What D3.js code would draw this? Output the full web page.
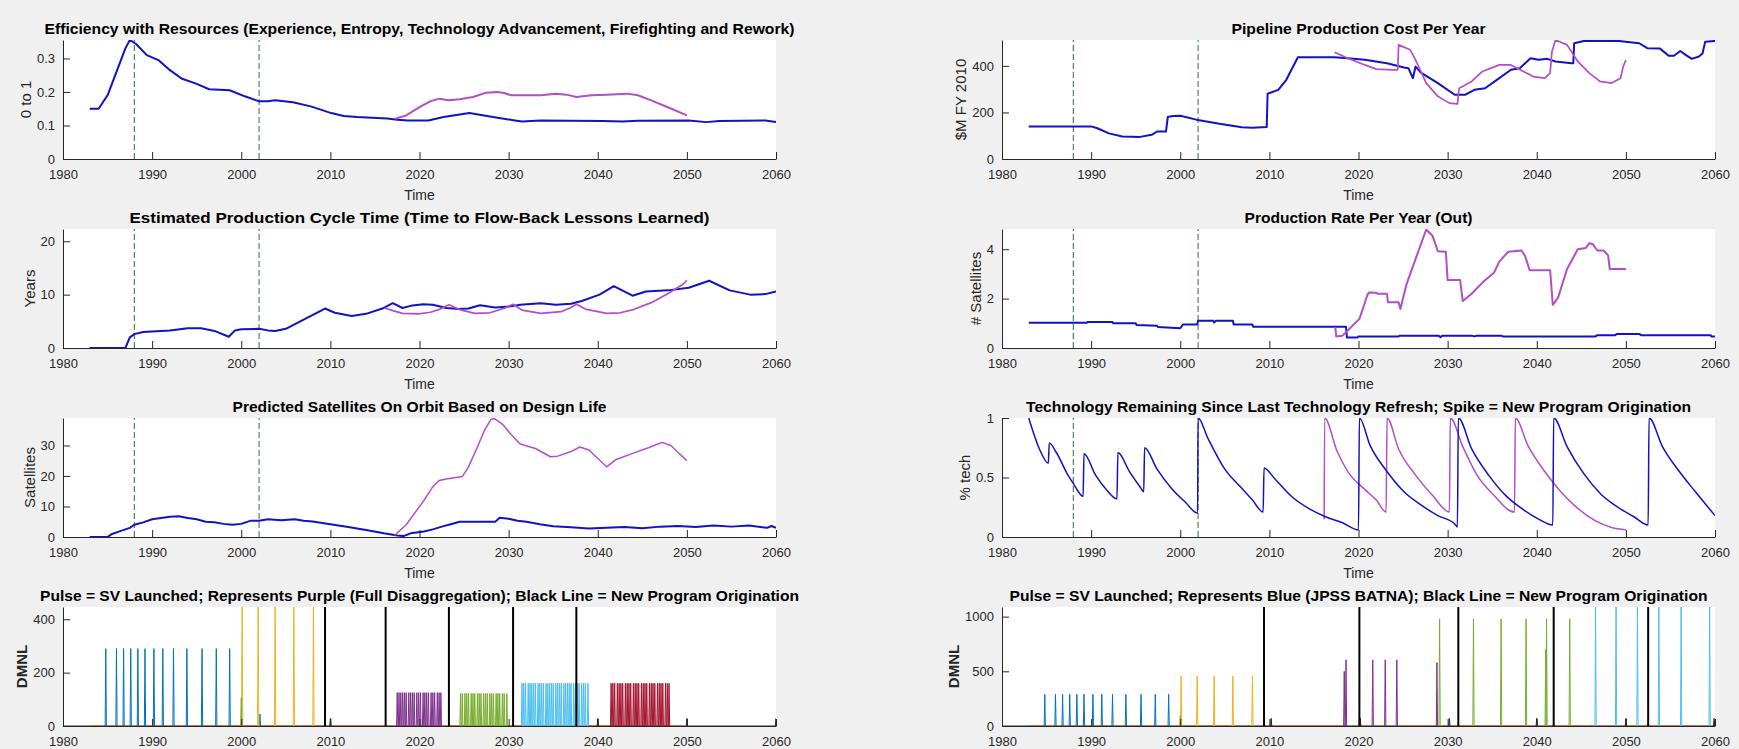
<!DOCTYPE html>
<meta charset="utf-8">

<script src="https://d3js.org/d3.v7.min.js"></script>

<style type="text/css">
body { margin: 0; background: #f0f0f0; }
text { font-family: "Liberation Sans", Arial, sans-serif; fill: #262626; }
</style>

<body>
</body>

<script>

// ---- data ----
var xTicks = [1980, 1990, 2000, 2010, 2020, 2030, 2040, 2050, 2060];
var markerYears = [1988, 2002];

var effBlue = [[1983,0.15],[1984,0.15],[1985,0.19],[1986,0.26],[1987,0.33],[1987.5,0.355],[1988.2,0.343],[1989.4,0.31],[1990.7,0.295],[1992,0.265],[1993.3,0.24],[1995,0.224],[1996.4,0.208],[1998.7,0.205],[2000.4,0.187],[2002,0.172],[2003,0.172],[2003.8,0.175],[2005.8,0.169],[2007.8,0.157],[2010.1,0.137],[2011.5,0.128],[2013,0.125],[2016.4,0.121],[2017.5,0.117],[2018.7,0.115],[2021,0.115],[2022.7,0.125],[2025.6,0.137],[2027.9,0.127],[2030.7,0.115],[2031.5,0.112],[2033.6,0.115],[2040.5,0.113],[2042.8,0.112],[2044.5,0.114],[2050.2,0.115],[2052.2,0.11],[2053.6,0.113],[2058.8,0.115],[2060,0.11]];
var effPurple = [[2017.3,0.12],[2018.5,0.13],[2020,0.155],[2021.2,0.172],[2022.2,0.18],[2023.3,0.175],[2024.5,0.178],[2026,0.185],[2027.5,0.198],[2028.7,0.2],[2029.5,0.197],[2030.3,0.19],[2033.6,0.19],[2035.3,0.195],[2036.5,0.192],[2037.6,0.185],[2039.3,0.19],[2041,0.192],[2043.3,0.195],[2044.5,0.19],[2046,0.175],[2048,0.153],[2050,0.13]];

var costBlue = [[1983,140],[1990,140],[1990.7,132],[1992,110],[1993.5,97],[1995.5,95],[1996.8,104],[1997.4,118],[1998.4,118],[1998.6,180],[1999.2,185],[2000,186],[2001.8,169],[2004.4,151],[2006.9,136],[2008.1,134],[2009.7,137],[2009.8,280],[2011,297],[2011.9,340],[2013.2,437],[2017.3,437],[2018.8,433],[2020.7,426],[2023.2,411],[2025.1,393],[2025.6,390],[2026.1,347],[2026.4,397],[2027,371],[2028.9,326],[2030.8,276],[2032,276],[2033,297],[2034.2,304],[2035.8,347],[2037.1,383],[2038.1,390],[2039.3,433],[2040.2,426],[2041.2,430],[2042.1,419],[2043.9,411],[2044.1,411],[2044.2,497],[2045.3,507],[2049.2,507],[2051.5,497],[2052.4,476],[2053.8,475],[2054.8,443],[2055.4,443],[2056.1,464],[2056.7,447],[2057.4,430],[2058.2,440],[2058.6,453],[2058.9,504],[2060,507]];
var costPurple = [[2017.3,458],[2018.8,433],[2020.7,404],[2022,386],[2023.9,383],[2024.4,383],[2024.5,490],[2025.8,469],[2026.4,426],[2027.6,326],[2028.9,269],[2030.2,240],[2031.1,237],[2031.3,304],[2032.7,333],[2033.9,376],[2035.8,404],[2037.1,404],[2038.3,380],[2039.6,354],[2040.9,347],[2041.5,369],[2041.7,460],[2042.1,511],[2043.4,490],[2044.6,419],[2045.9,369],[2047.1,333],[2048.4,326],[2049.4,347],[2049.7,397],[2050,425]];

var cycleBlue = [[1983,0],[1987,0],[1987.5,2.0],[1988,2.6],[1989,3.0],[1990,3.1],[1992,3.3],[1994,3.7],[1995.5,3.7],[1997,3.2],[1998.6,2.1],[1999.3,3.3],[2000,3.5],[2002,3.6],[2003,3.3],[2003.8,3.2],[2005,3.6],[2007,5.3],[2009.4,7.4],[2010.5,6.6],[2012.4,6.0],[2014,6.4],[2016,7.5],[2017,8.4],[2018.1,7.5],[2019,7.9],[2020.4,8.2],[2021.5,8.1],[2023,7.5],[2024.4,7.3],[2025.5,7.4],[2026.8,8.0],[2028.5,7.6],[2030.2,7.8],[2031.3,8.1],[2033.6,8.4],[2035.3,8.1],[2037,8.3],[2038.2,8.8],[2040.2,10.0],[2041.8,11.6],[2043.9,9.8],[2045.4,10.6],[2047.9,10.8],[2050.2,11.3],[2052.5,12.6],[2054.8,10.8],[2057.1,10.0],[2058.8,10.1],[2060,10.6]];
var cyclePurple = [[2016.1,7.5],[2017,7.0],[2018.1,6.5],[2019.9,6.4],[2021.2,6.7],[2022.2,7.2],[2023.3,8.1],[2024.5,7.2],[2026.2,6.5],[2027.9,6.6],[2029.6,7.5],[2030.5,8.2],[2031.5,7.1],[2033.6,6.5],[2035.9,6.8],[2037,7.6],[2037.6,8.2],[2038.6,7.3],[2041,6.5],[2042.5,6.6],[2044,7.2],[2046,8.5],[2048,10.3],[2049.6,12.0],[2050,12.7]];

var rateBlue = [[1983,1.02],[1989.5,1.02],[1989.6,1.05],[1992.4,1.05],[1992.5,1.0],[1995,1.0],[1995.1,0.93],[1997.4,0.9],[1997.5,0.85],[1999,0.82],[2000,0.8],[2000.3,0.95],[2001.9,0.95],[2002,1.1],[2003.7,1.1],[2003.8,1.03],[2004,1.1],[2005.9,1.1],[2006,0.95],[2008.1,0.95],[2008.2,0.86],[2018.6,0.86],[2018.7,0.43],[2019.9,0.43],[2020,0.47],[2024.5,0.47],[2024.6,0.5],[2029,0.5],[2029.2,0.44],[2029.4,0.5],[2032.7,0.5],[2033,0.47],[2033.3,0.5],[2036,0.5],[2036.2,0.47],[2046.6,0.47],[2046.8,0.52],[2048.8,0.52],[2049,0.57],[2051.5,0.57],[2051.7,0.52],[2059.5,0.52],[2059.6,0.47],[2060,0.47]];
var ratePurple = [[2017.4,0.85],[2017.5,0.47],[2018.2,0.5],[2018.8,0.71],[2020.1,1.18],[2020.5,1.6],[2021,2.15],[2021.2,2.25],[2022,2.24],[2022.1,2.2],[2023.2,2.2],[2023.3,1.85],[2024.5,1.85],[2024.7,1.58],[2025.4,2.6],[2026.4,3.6],[2027,4.2],[2027.6,4.8],[2028.3,4.55],[2028.9,3.92],[2029.8,3.9],[2030,2.75],[2031.4,2.75],[2031.7,1.9],[2032.7,2.2],[2033.9,2.65],[2035.2,3.05],[2035.8,3.5],[2036.8,3.9],[2038.3,3.95],[2038.7,3.72],[2039.2,3.15],[2041.5,3.15],[2041.8,1.75],[2042.4,2.05],[2043.4,3.2],[2044.6,4.0],[2045.5,4.05],[2045.9,4.25],[2046.3,4.2],[2046.8,3.95],[2047.5,3.95],[2048,3.75],[2048.2,3.2],[2050,3.2]];

var orbitBlue = [[1983,0],[1985,0],[1985.5,1],[1986.5,2],[1987.5,3],[1988,4],[1989,4.8],[1990,5.8],[1991,6.2],[1992,6.6],[1993,6.8],[1994,6.2],[1995,5.8],[1996,5.0],[1997,4.8],[1998,4.3],[1999,4.0],[2000,4.3],[2001,5.3],[2002,5.3],[2003,5.8],[2004.5,5.5],[2006,5.8],[2007,5.3],[2008,5.1],[2010,4.2],[2012,3.3],[2014,2.3],[2016,1.2],[2017.5,0.5],[2018.2,0.3],[2019,1.2],[2020.5,1.8],[2021.5,2.5],[2022.5,3.4],[2023.5,4.2],[2024.5,5.0],[2028.5,5.0],[2029,6.3],[2030,6.0],[2031,5.3],[2032,5.0],[2033.5,4.2],[2035,3.5],[2037,3.2],[2039,2.8],[2041,3.0],[2043,3.3],[2045,2.9],[2047,3.4],[2049,3.6],[2051,3.3],[2053,3.8],[2055,3.4],[2057,3.8],[2059,3.0],[2059.5,3.6],[2060,3.0]];
var orbitPurple = [[2017.2,0.5],[2018.5,4],[2019.5,8],[2020.5,12],[2021.5,16.5],[2022.2,18.5],[2023,19],[2024.8,19.8],[2025.5,23],[2026.5,29.5],[2027.3,35],[2028,38.5],[2028.4,38.8],[2029.3,37],[2030.3,33.5],[2031.3,30.5],[2033,29],[2034.7,26.3],[2035.5,26.5],[2037,28],[2038,29.5],[2039,28.5],[2041,23],[2042,25.3],[2044,27.5],[2045.9,29.5],[2047.2,31],[2048.2,30],[2050,25]];

var techBlue = [[1983,1.0],[1984.2,0.74],[1985.2,0.62],[1985.3,0.79],[1986.1,0.71],[1987.4,0.52],[1988,0.45],[1988.9,0.35],[1989.1,0.34],[1989.2,0.70],[1990.5,0.52],[1991.8,0.39],[1992.9,0.32],[1993.0,0.71],[1994.3,0.55],[1995.5,0.42],[1995.9,0.38],[1996.0,0.75],[1997.4,0.57],[1999.0,0.41],[2000.6,0.29],[2001.95,0.2],[2002.0,1.0],[2003.1,0.83],[2005.0,0.57],[2006.9,0.41],[2008.1,0.31],[2009.3,0.21],[2009.4,0.58],[2010.6,0.49],[2012.5,0.34],[2014.4,0.24],[2016.3,0.17],[2018.2,0.12],[2020.0,0.06],[2020.1,1.0],[2021.3,0.77],[2023.2,0.55],[2025.1,0.38],[2027,0.27],[2028.9,0.18],[2030.8,0.11],[2031.1,0.085],[2031.2,1.0],[2032.7,0.74],[2034.6,0.52],[2036.5,0.35],[2038.3,0.24],[2040.2,0.15],[2041.8,0.1],[2041.9,1.0],[2043.4,0.76],[2045.3,0.53],[2047.2,0.36],[2049.1,0.25],[2050.9,0.17],[2052.5,0.1],[2052.6,1.0],[2054.1,0.76],[2056,0.55],[2057.8,0.38],[2060,0.18]];
var techPurple = [[2016.15,0.15],[2016.2,1.0],[2017.6,0.72],[2018.8,0.55],[2020.7,0.40],[2022,0.31],[2023.1,0.21],[2023.2,1.0],[2024.5,0.74],[2026.4,0.52],[2028.3,0.35],[2030.2,0.21],[2030.3,1.0],[2031.7,0.76],[2033.3,0.52],[2035.2,0.35],[2037.5,0.21],[2037.6,1.0],[2039,0.77],[2040.9,0.55],[2042.7,0.38],[2044.6,0.24],[2046.5,0.14],[2048.4,0.08],[2050,0.06]];

// launch pulses (year of each pulse) and pulse heights
var histLaunches = [1984.8, 1986.0, 1986.8, 1987.6, 1988.4, 1989.2, 1990.2, 1991.2, 1992.4, 1993.9, 1995.6, 1997.2, 1998.7];
var bridgeLaunches = [2000.1, 2001.9, 2003.8, 2005.9, 2008.1];
var disPurple = [2017.5, 2017.7, 2017.9, 2018.1, 2018.3, 2018.5, 2018.8, 2019.0, 2019.2, 2019.4, 2019.7, 2019.9, 2020.1, 2020.4, 2020.6, 2020.8, 2021.0, 2021.3, 2021.5, 2021.7, 2022.0, 2022.2, 2022.4];
var disGreen = [2024.6, 2024.8, 2025.1, 2025.3, 2025.5, 2025.8, 2026.0, 2026.2, 2026.5, 2026.7, 2026.9, 2027.2, 2027.4, 2027.6, 2027.9, 2028.1, 2028.3, 2028.6, 2028.8, 2029.0, 2029.3, 2029.5, 2029.8];
var disCyan = [2031.5, 2031.7, 2031.9, 2032.2, 2032.4, 2032.6, 2032.8, 2033.0, 2033.3, 2033.5, 2033.7, 2033.9, 2034.2, 2034.4, 2034.6, 2034.8, 2035.0, 2035.3, 2035.5, 2035.7, 2035.9, 2036.2, 2036.4, 2036.6, 2036.8, 2037.0, 2037.3, 2037.5, 2037.7, 2037.9, 2038.2, 2038.4, 2038.6, 2038.9];
var disRed = [2041.5, 2041.7, 2041.9, 2042.2, 2042.4, 2042.6, 2042.8, 2043.1, 2043.3, 2043.5, 2043.7, 2044.0, 2044.2, 2044.4, 2044.6, 2044.9, 2045.1, 2045.3, 2045.5, 2045.8, 2046.0, 2046.2, 2046.4, 2046.7, 2046.9, 2047.1, 2047.3, 2047.6, 2047.8, 2048.0];
var disProgram = [2009.4, 2016.2, 2023.3, 2030.5, 2037.6];
var disSmall = [2010.0, 2040.0, 2050.0, 2060.0];

var batPurple = [2018.4, 2018.6, 2021.6, 2023.0, 2024.3, 2028.8];
var batPurpleH = [500, 605, 605, 605, 605, 580];
var batGreen = [2029.1, 2032.9, 2036.0, 2038.8, 2041.1, 2043.7];
var batCyan = [2046.6, 2048.9, 2051.3, 2053.7, 2056.2, 2059.4];
var batProgram = [2009.4, 2020.1, 2031.2, 2041.9, 2052.5];
var batSmall = [2010.2, 2020.2, 2030.2, 2040.0, 2050.0, 2059.9];

// ---- layout ----
var width = 1739, height = 749;
var colX = [63, 1002], axW = 713;
var rowY = [40, 229, 418, 607], axH = 119;

var BLUE = "#1212c4", PURPLE = "#b24ec8", DASH = "#2a6b47";
var C = ["#0072BD", "#D95319", "#EDB120", "#7E2F8E", "#77AC30", "#4DBEEE", "#A2142F"];

var svg = d3.select("body").append("svg")
    .attr("width", width)
    .attr("height", height)
    .style("display", "block")
    .style("background", "#f0f0f0");

function pulses(times, h, color, w) {
  return times.map(function(t, i) {
    var hh = Array.isArray(h) ? h[i] : h;
    return { d: [[t - 0.07, 0], [t, hh], [t + 0.07, 0]], c: color, w: w || 1 };
  });
}

var panels = [
  { col: 0, row: 0, title: "Efficiency with Resources (Experience, Entropy, Technology Advancement, Firefighting and Rework)", tw: 750,
    ylabel: "0 to 1", ymax: 0.355, yticks: [0, 0.1, 0.2, 0.3], dashed: true,
    series: [{ d: effBlue, c: BLUE, w: 2 }, { d: effPurple, c: PURPLE, w: 2 }] },
  { col: 1, row: 0, title: "Pipeline Production Cost Per Year", tw: 254,
    ylabel: "$M FY 2010", ymax: 511, yticks: [0, 200, 400], dashed: true,
    series: [{ d: costBlue, c: BLUE, w: 2 }, { d: costPurple, c: PURPLE, w: 1.7 }] },
  { col: 0, row: 1, title: "Estimated Production Cycle Time (Time to Flow-Back Lessons Learned)", tw: 580,
    ylabel: "Years", ymax: 22.3, yticks: [0, 10, 20], dashed: true,
    series: [{ d: cycleBlue, c: BLUE, w: 2 }, { d: cyclePurple, c: PURPLE, w: 1.7 }] },
  { col: 1, row: 1, title: "Production Rate Per Year (Out)", tw: 228,
    ylabel: "# Satellites", ymax: 4.82, yticks: [0, 2, 4], dashed: true,
    series: [{ d: rateBlue, c: BLUE, w: 2 }, { d: ratePurple, c: PURPLE, w: 2 }] },
  { col: 0, row: 2, title: "Predicted Satellites On Orbit Based on Design Life", tw: 374,
    ylabel: "Satellites", ymax: 39, yticks: [0, 10, 20, 30], dashed: true,
    series: [{ d: orbitBlue, c: BLUE, w: 2 }, { d: orbitPurple, c: PURPLE, w: 1.5 }] },
  { col: 1, row: 2, title: "Technology Remaining Since Last Technology Refresh; Spike = New Program Origination", tw: 665,
    ylabel: "% tech", ymax: 1, yticks: [0, 0.5, 1], dashed: true, smooth: true,
    series: [{ d: techPurple, c: PURPLE, w: 1.5 }, { d: techBlue, c: BLUE, w: 1.5 }] },
  { col: 0, row: 3, title: "Pulse = SV Launched; Represents Purple (Full Disaggregation); Black Line = New Program Origination", tw: 759,
    ylabel: "DMNL", ymax: 446, yticks: [0, 200, 400], bold: true, noTime: true,
    series: [{ d: [[1980, 0], [2060, 0]], c: "#333", w: 1 }, { d: [[1983, 0], [2049.5, 0]], c: C[1], w: 1 }]
      .concat(pulses(histLaunches, 290, C[0]))
      .concat(pulses([2002.1], 45, C[0]))
      .concat(pulses(bridgeLaunches, 470, C[2]))
      .concat(pulses([2000.0], 105, C[4]))
      .concat(pulses(disPurple, 125, C[3]))
      .concat(pulses(disGreen, 122, C[4]))
      .concat(pulses(disCyan, 160, C[5]))
      .concat(pulses(disRed, 160, C[6]))
      .concat(pulses(disSmall, 28, "#222"))
      .concat(disProgram.map(function(t) { return { d: [[t, 0], [t, 446]], c: "#000", w: 2 }; })) },
  { col: 1, row: 3, title: "Pulse = SV Launched; Represents Blue (JPSS BATNA); Black Line = New Program Origination", tw: 698,
    ylabel: "DMNL", ymax: 1088, yticks: [0, 500, 1000], bold: true, noTime: true,
    series: [{ d: [[1980, 0], [2060, 0]], c: "#333", w: 1 }, { d: [[1983, 0], [2060, 0]], c: C[1], w: 1 }]
      .concat(pulses(histLaunches, 290, C[0]))
      .concat(pulses(bridgeLaunches, 455, C[2]))
      .concat(pulses([2000.0], 90, C[4]))
      .concat(pulses(batPurple, batPurpleH, C[3]))
      .concat(pulses(batGreen, 980, C[4]))
      .concat(pulses([2041.0], 700, C[4]))
      .concat(pulses(batCyan, 1100, C[5]))
      .concat(pulses(batSmall, 70, "#222"))
      .concat(batProgram.map(function(t) { return { d: [[t, 0], [t, 1088]], c: "#000", w: 2 }; })) }
];

panels.forEach(drawPanel);

function drawPanel(p, i) {
  var g = svg.append("g")
      .attr("transform", "translate(" + colX[p.col] + "," + rowY[p.row] + ")");

  var x = d3.scaleLinear().domain([1980, 2060]).range([0, axW]);
  var y = d3.scaleLinear().domain([0, p.ymax]).range([axH, 0]);

  g.append("rect")
      .attr("width", axW)
      .attr("height", axH)
      .attr("fill", "#fff");

  g.append("clipPath")
      .attr("id", "clip" + i)
    .append("rect")
      .attr("width", axW)
      .attr("height", axH);

  var plot = g.append("g").attr("clip-path", "url(#clip" + i + ")");

  if (p.dashed) {
    plot.selectAll(".mark")
        .data(markerYears)
      .enter().append("line")
        .attr("x1", function(d) { return x(d); })
        .attr("x2", function(d) { return x(d); })
        .attr("y1", y(0))
        .attr("y2", y(p.ymax))
        .attr("stroke", DASH)
        .attr("stroke-width", 1)
        .attr("stroke-dasharray", "6,3");
  }

  var line = d3.line()
      .x(function(d) { return x(d[0]); })
      .y(function(d) { return y(d[1]); })
      .curve(p.smooth ? d3.curveMonotoneX : d3.curveLinear);

  plot.selectAll(".series")
      .data(p.series)
    .enter().append("path")
      .attr("d", function(s) { return line(s.d); })
      .attr("fill", "none")
      .attr("stroke", function(s) { return s.c; })
      .attr("stroke-width", function(s) { return s.w; })
      .attr("stroke-linejoin", "round");

  var xAxis = g.append("g")
      .attr("transform", "translate(0," + axH + ")")
      .call(d3.axisBottom(x).tickValues(xTicks).tickFormat(d3.format("d"))
        .tickSizeInner(-7).tickSizeOuter(0).tickPadding(11));

  var yAxis = g.append("g")
      .call(d3.axisLeft(y).tickValues(p.yticks).tickFormat(function(d) { return String(d); })
        .tickSizeInner(-7).tickSizeOuter(0).tickPadding(8));

  [xAxis, yAxis].forEach(function(a) {
    a.select(".domain").attr("stroke", "#262626");
    a.selectAll(".tick line").attr("stroke", "#262626");
    a.selectAll(".tick text")
        .attr("fill", "#262626")
        .style("font-family", "'Liberation Sans', Arial, sans-serif")
        .style("font-size", "13px");
  });

  var bb = yAxis.node().getBBox();

  g.append("text")
      .attr("transform", "translate(" + (bb.x - 6) + "," + (axH / 2) + ") rotate(-90)")
      .attr("text-anchor", "middle")
      .style("font-size", "15px")
      .style("font-weight", p.bold ? "bold" : "normal")
      .text(p.ylabel);

  g.append("text")
      .attr("x", axW / 2)
      .attr("y", -6)
      .attr("text-anchor", "middle")
      .attr("textLength", p.tw)
      .attr("lengthAdjust", "spacingAndGlyphs")
      .style("font-size", "15px")
      .style("font-weight", "bold")
      .style("fill", "#000")
      .text(p.title);

  // the bottom row's axis label falls below the window edge in the figure
  if (!p.noTime) {
    g.append("text")
        .attr("x", axW / 2)
        .attr("y", axH + 41)
        .attr("text-anchor", "middle")
        .style("font-size", "14px")
        .text("Time");
  }
}

</script>
